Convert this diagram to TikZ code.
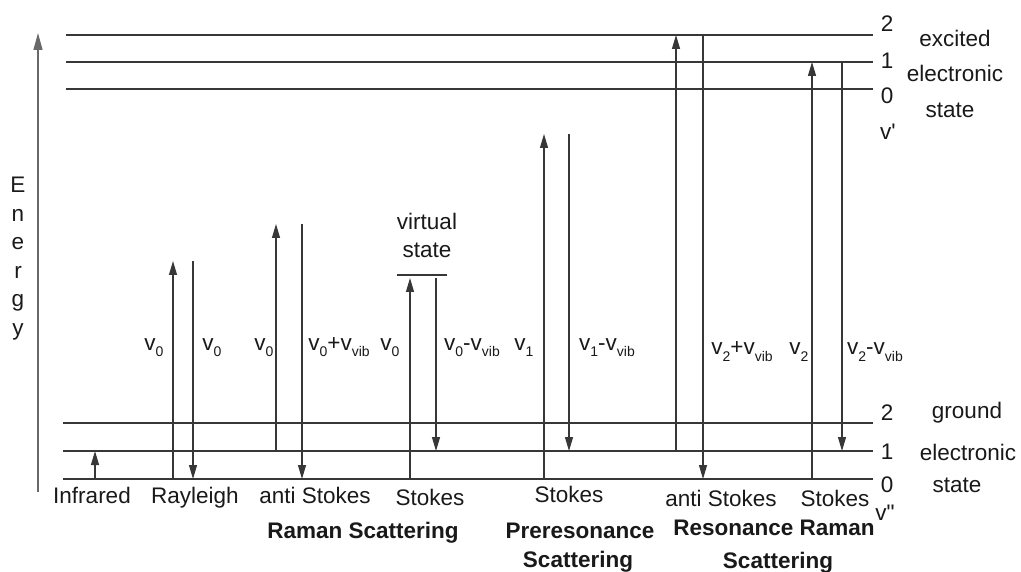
\documentclass[tikz,border=0pt]{standalone}
\usepackage{fontspec}
\setmainfont{Liberation Sans}
\usetikzlibrary{arrows.meta}
\newcommand{\vsub}[1]{v\raisebox{-6pt}{\fontsize{14}{14}\selectfont#1}}

\begin{document}
\begin{tikzpicture}[x=1pt,y=-1pt,>={Triangle[length=14pt,width=8pt]},
    every node/.style={font=\fontsize{22.5}{27}\selectfont,text=textblack,inner sep=0pt},
    level/.style={line width=1.4pt,levelgray},
    trans/.style={line width=1.2pt,levelgray,->},
    title/.style={font=\fontsize{22.5}{27}\selectfont\bfseries,anchor=base}]
  \definecolor{levelgray}{RGB}{55,55,55}
  \definecolor{textblack}{RGB}{25,25,25}
  \definecolor{axisgray}{RGB}{105,105,105}
  \useasboundingbox (0,0) rectangle (1021,572);
  % energy axis
  \draw[line width=1.3pt,axisgray,-{Triangle[length=17pt,width=9pt]}] (38,492) coordinate (ebase) -- (38,33) coordinate (etop);
  \foreach \ltr [count=\i from 0] in {E,n,e,r,g,y}
    \node[anchor=base] (en\i) at (18,{193+28.5*\i}) {\ltr};
  % vibrational levels
  \foreach \name/\y in {e2/35,e1/62,e0/89}
    \draw[level] (66,\y) coordinate (\name) -- (873,\y);
  \foreach \name/\y in {g2/423,g1/451,g0/479}
    \draw[level] (63,\y) coordinate (\name) -- (873,\y);
  \draw[level] (397,275) coordinate (virt) -- (447,275);
  \coordinate (rayl) at (0,261);
  \coordinate (anti) at (0,224);
  \coordinate (vtop) at (0,278);
  \coordinate (pre) at (0,134);
  \foreach \x/\from/\to in {95/g0/g1,173/g0/rayl,193/rayl/g0,276/g1/anti,302/anti/g0,
      410/g0/vtop,436/vtop/g1,544/g0/pre,569/pre/g1,676/g1/e2,703/e2/g0,812/g0/e1,842/e1/g1}
    \draw[trans] (\x,0|-\from) -- (\x,0|-\to);
  \node[anchor=base] (virtual) at (427,230) {virtual};
  \node[anchor=base] (vstate) at (427,258) {state};
  % level numbers
  \foreach \lbl/\y [count=\i] in {2/24,1/61,0/96,2/413,1/452,0/485}
    \node (num\i) at (887,\y) {\lbl};
  \node (exc) at (955,38) {excited};
  \node (excel) at (955,73) {electronic};
  \node (excst) at (950,110) {state};
  \node (vup) at (888,132) {v\textquotesingle};
  \node (gnd) at (967,413) {ground};
  \node (gndel) at (968,452) {electronic};
  \node (gndst) at (957,485) {state};
  \node (vlow) at (885,513) {v\textquotedbl};
  % frequencies
  \foreach \x/\y/\txt [count=\i] in {154/350/\vsub{0},212/350/\vsub{0},264/350/\vsub{0},
      339/350/\vsub{0}+\vsub{vib},390/350/\vsub{0},472/350/\vsub{0}-\vsub{vib},
      524/350/\vsub{1},607/350/\vsub{1}-\vsub{vib},742/355/\vsub{2}+\vsub{vib},
      799/355/\vsub{2},875/355/\vsub{2}-\vsub{vib}}
    \node[anchor=base] (freq\i) at (\x,\y) {\txt};
  % processes
  \node[anchor=base] (ir) at (92,503) {Infrared};
  \node[anchor=base] (ray) at (195,503) {Rayleigh};
  \node[anchor=base] (ras) at (315,503) {anti Stokes};
  \node[anchor=base] (rs) at (430,505) {Stokes};
  \node[title] (raman) at (363,538) {Raman Scattering};
  \node[anchor=base] (ps) at (569,502) {Stokes};
  \node[title] (prer) at (580,538) {Preresonance};
  \node[title] (prersc) at (578,567) {Scattering};
  \node[anchor=base] (resas) at (721,506) {anti Stokes};
  \node[anchor=base] (ress) at (835,506) {Stokes};
  \node[title] (resr) at (774,535) {Resonance Raman};
  \node[title] (resrsc) at (778,568) {Scattering};
\end{tikzpicture}
\end{document}
